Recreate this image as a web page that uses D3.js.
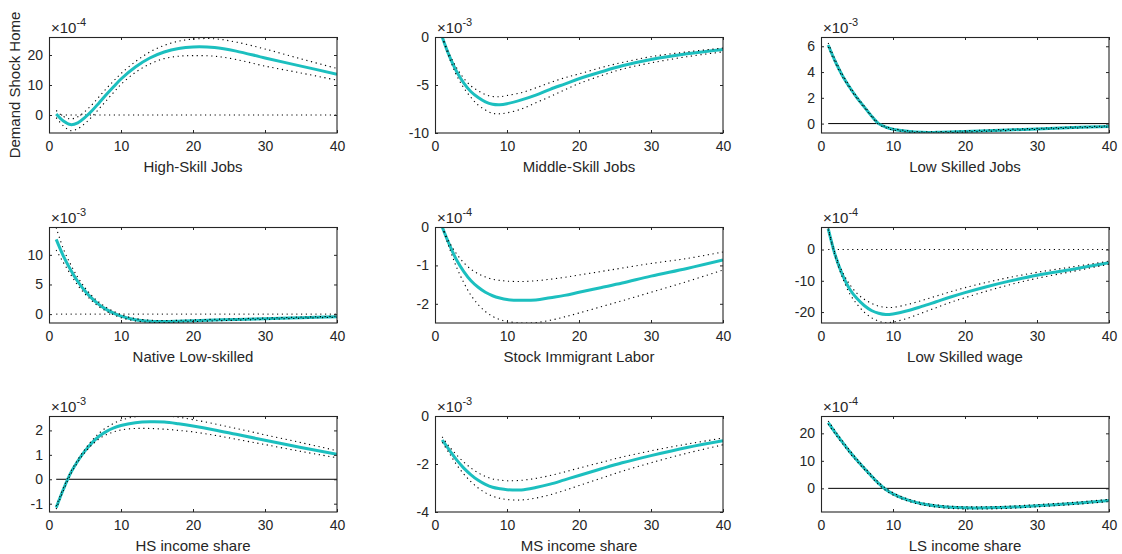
<!DOCTYPE html>
<html>
<head>
<meta charset="utf-8">
<script src="https://cdn.jsdelivr.net/npm/d3@7"></script>
<style>
  html, body { margin: 0; padding: 0; background: #fff; }
  svg { display: block; }
  text { font-family: "Liberation Sans", Arial, Helvetica, sans-serif; fill: #262626; }
</style>
</head>
<body>
<svg id="chart" width="1122" height="554"></svg>
<script>
// ---------- data (horizon steps and IRF values) ----------
const steps = [1,2,3,4,5,6,7,8,9,10,12,14,16,18,20,23,26,30,35,40];
const xTicks = [0,10,20,30,40];

// High-Skill Jobs (x1e-4)
const hsJobsMean = [0.3,-2.0,-3.2,-2.6,-0.8,1.5,4.2,6.9,9.5,12.0,16.0,19.0,21.0,22.2,22.7,22.5,21.3,19.0,16.3,13.6];
const hsJobsUp   = [1.5,-0.5,-1.3,-0.6,1.2,3.5,6.2,8.9,11.4,13.8,17.8,21.0,23.2,24.6,25.3,25.4,24.3,22.0,18.7,15.5];
const hsJobsLo   = [-0.9,-3.6,-5.2,-4.6,-2.8,-0.5,2.2,4.9,7.6,10.2,14.2,17.0,18.8,19.6,19.8,19.6,18.5,16.3,14.0,11.6];

// Middle-Skill Jobs (x1e-3)
const msJobsMean = [0,-2.0,-3.6,-4.8,-5.7,-6.3,-6.75,-7.0,-7.05,-6.95,-6.55,-6.05,-5.45,-4.9,-4.35,-3.65,-3.0,-2.35,-1.75,-1.3];
const msJobsUp   = [0,-1.8,-3.2,-4.3,-5.1,-5.6,-6.0,-6.2,-6.22,-6.1,-5.8,-5.3,-4.75,-4.25,-3.85,-3.2,-2.65,-2.05,-1.55,-1.15];
const msJobsLo   = [0,-2.2,-4.0,-5.3,-6.3,-7.1,-7.6,-7.95,-8.0,-7.9,-7.5,-6.85,-6.2,-5.5,-4.85,-4.05,-3.35,-2.7,-2.05,-1.55];

// Low Skilled Jobs (x1e-3)
const lsJobsMean = [6.1,4.8,3.7,2.8,2.0,1.3,0.6,0.0,-0.28,-0.44,-0.6,-0.68,-0.68,-0.65,-0.61,-0.55,-0.49,-0.41,-0.31,-0.22];
const lsJobsUp   = [6.25,4.92,3.8,2.88,2.07,1.36,0.65,0.05,-0.23,-0.39,-0.55,-0.63,-0.63,-0.6,-0.56,-0.5,-0.44,-0.37,-0.27,-0.18];
const lsJobsLo   = [5.95,4.68,3.6,2.72,1.93,1.24,0.55,-0.05,-0.33,-0.49,-0.65,-0.73,-0.73,-0.7,-0.66,-0.6,-0.54,-0.45,-0.35,-0.26];

// Native Low-skilled (x1e-3)
const nativeMean = [12.6,9.8,7.5,5.5,3.9,2.6,1.55,0.75,0.15,-0.35,-0.95,-1.2,-1.25,-1.2,-1.12,-1.0,-0.9,-0.78,-0.6,-0.45];
const nativeUp   = [14.6,11.0,8.4,6.2,4.45,3.05,1.95,1.1,0.45,-0.1,-0.75,-1.02,-1.08,-1.05,-0.98,-0.87,-0.78,-0.66,-0.5,-0.36];
const nativeLo   = [10.8,8.7,6.7,4.85,3.4,2.2,1.2,0.45,-0.12,-0.6,-1.15,-1.38,-1.42,-1.36,-1.27,-1.14,-1.03,-0.9,-0.7,-0.54];

// Stock Immigrant Labor (x1e-4)
const stockMean = [0,-0.46,-0.86,-1.16,-1.4,-1.57,-1.7,-1.79,-1.85,-1.89,-1.91,-1.9,-1.84,-1.78,-1.7,-1.58,-1.46,-1.28,-1.08,-0.86];
const stockUp   = [0,-0.4,-0.7,-0.93,-1.1,-1.22,-1.3,-1.36,-1.39,-1.41,-1.42,-1.4,-1.36,-1.31,-1.25,-1.16,-1.07,-0.95,-0.82,-0.65];
const stockLo   = [0,-0.55,-1.05,-1.45,-1.78,-2.02,-2.2,-2.33,-2.41,-2.46,-2.5,-2.49,-2.43,-2.34,-2.24,-2.08,-1.92,-1.7,-1.42,-1.12];

// Low Skilled wage (x1e-4)
const wageMean = [6.7,-2.0,-8.2,-12.7,-15.7,-17.9,-19.5,-20.4,-20.8,-20.6,-19.6,-18.2,-16.7,-15.2,-13.8,-11.9,-10.2,-8.2,-6.3,-4.2];
const wageUp   = [7.0,-1.6,-7.3,-11.2,-14.0,-15.9,-17.2,-18.1,-18.5,-18.5,-17.6,-16.3,-14.9,-13.5,-12.2,-10.5,-9.0,-7.3,-5.5,-3.7];
const wageLo   = [6.4,-2.4,-9.1,-14.2,-17.5,-20.0,-21.8,-22.9,-23.4,-23.2,-22.0,-20.3,-18.6,-16.9,-15.4,-13.3,-11.4,-9.2,-7.0,-4.7];

// HS income share (x1e-3)
const hsShareMean = [-1.16,-0.41,0.25,0.75,1.16,1.5,1.77,1.96,2.1,2.2,2.31,2.35,2.34,2.27,2.18,2.02,1.84,1.6,1.3,1.02];
const hsShareUp   = [-1.1,-0.36,0.3,0.8,1.23,1.6,1.9,2.12,2.29,2.42,2.56,2.6,2.6,2.54,2.44,2.27,2.08,1.82,1.5,1.17];
const hsShareLo   = [-1.22,-0.46,0.2,0.7,1.1,1.42,1.66,1.83,1.94,2.02,2.08,2.08,2.05,2.0,1.94,1.8,1.64,1.42,1.14,0.88];

// MS income share (x1e-3)
const msShareMean = [-1.0,-1.42,-1.83,-2.17,-2.45,-2.68,-2.85,-2.97,-3.03,-3.07,-3.08,-2.98,-2.84,-2.66,-2.48,-2.21,-1.95,-1.65,-1.31,-1.03];
const msShareUp   = [-0.87,-1.28,-1.62,-1.92,-2.17,-2.37,-2.52,-2.62,-2.67,-2.7,-2.68,-2.6,-2.48,-2.33,-2.17,-1.94,-1.71,-1.45,-1.17,-0.92];
const msShareLo   = [-1.1,-1.56,-2.03,-2.42,-2.74,-3.0,-3.2,-3.34,-3.43,-3.48,-3.5,-3.42,-3.28,-3.1,-2.9,-2.6,-2.3,-1.95,-1.55,-1.2];

// LS income share (x1e-4)
const lsShareMean = [23.9,20.2,16.7,13.3,10.2,7.3,4.5,1.8,-0.4,-2.0,-4.2,-5.6,-6.4,-6.9,-7.1,-7.1,-6.9,-6.3,-5.5,-4.4];
const lsShareUp   = [24.5,20.8,17.2,13.8,10.6,7.7,4.9,2.2,0.0,-1.6,-3.8,-5.2,-6.0,-6.5,-6.7,-6.7,-6.5,-5.9,-5.1,-4.0];
const lsShareLo   = [23.3,19.6,16.2,12.8,9.8,6.9,4.1,1.4,-0.8,-2.4,-4.6,-6.0,-6.8,-7.3,-7.5,-7.5,-7.3,-6.7,-5.9,-4.8];

const titles = ["High-Skill Jobs","Middle-Skill Jobs","Low Skilled Jobs",
                "Native Low-skilled","Stock Immigrant Labor","Low Skilled wage",
                "HS income share","MS income share","LS income share"];
const exponents = ["-4","-3","-3","-3","-4","-4","-3","-3","-4"];
const yLimits = [[-6,26],[-10,0],[-0.73,6.72],[-1.5,14.7],[-2.5,0],[-23.5,7.2],[-1.34,2.59],[-4,0],[-8.6,26.3]];
const yTickLists = [[0,10,20],[-10,-5,0],[0,2,4,6],[0,5,10],[-2,-1,0],[-20,-10,0],[-1,0,1,2],[-4,-2,0],[0,10,20]];
const zeroStyles = ["dot","dot","solid","dot","dot","dot","solid","dot","solid"];
const yAxisLabel = "Demand Shock Home";

const meanSeries = [hsJobsMean,msJobsMean,lsJobsMean,nativeMean,stockMean,wageMean,hsShareMean,msShareMean,lsShareMean];
const upSeries   = [hsJobsUp,msJobsUp,lsJobsUp,nativeUp,stockUp,wageUp,hsShareUp,msShareUp,lsShareUp];
const loSeries   = [hsJobsLo,msJobsLo,lsJobsLo,nativeLo,stockLo,wageLo,hsShareLo,msShareLo,lsShareLo];

// ---------- layout ----------
const colX = [49, 435, 821];
const rowY = [37, 227, 416];
const W = 288, H = 96;
const axisColor = "#262626";
const lineColor = "#1cbfbf";

const svg = d3.select("#chart");
const fmt = d => String(d);

titles.forEach((title, i) => {
  const col = i % 3, row = Math.floor(i / 3);
  const g = svg.append("g").attr("transform", `translate(${colX[col]},${rowY[row]})`);
  const x = d3.scaleLinear().domain([0, 40]).range([0, W]);
  const y = d3.scaleLinear().domain(yLimits[i]).range([H, 0]);

  const clipId = "clip" + i;
  g.append("clipPath").attr("id", clipId)
    .append("rect").attr("x", 0).attr("y", 0).attr("width", W).attr("height", H);
  const plot = g.append("g").attr("clip-path", `url(#${clipId})`);

  const line = d3.line()
    .x((d, k) => x(steps[k]))
    .y(d => y(d))
    .curve(d3.curveCatmullRom.alpha(0.5));

  // zero line
  const zl = plot.append("line")
    .attr("x1", x(1)).attr("x2", x(40))
    .attr("y1", y(0)).attr("y2", y(0))
    .attr("stroke", "#000").attr("stroke-width", 1);
  if (zeroStyles[i] === "dot") zl.attr("stroke-dasharray", "1.2,3.6");

  // mean response
  plot.append("path").datum(meanSeries[i])
    .attr("d", line).attr("fill", "none")
    .attr("stroke", lineColor).attr("stroke-width", 3)
    .attr("stroke-linejoin", "round");

  // bands
  [upSeries[i], loSeries[i]].forEach(s => {
    plot.append("path").datum(s)
      .attr("d", line).attr("fill", "none")
      .attr("stroke", "#000").attr("stroke-width", 1.1)
      .attr("stroke-dasharray", "1.2,3.6");
  });

  // axes
  const styleAxis = sel => {
    sel.select(".domain").remove();
    sel.selectAll(".tick line").attr("stroke", axisColor);
    sel.selectAll(".tick text").attr("fill", axisColor).style("font-size", "14px")
      .style("font-family", '"Liberation Sans", Arial, Helvetica, sans-serif');
  };
  g.append("g").attr("transform", `translate(0,${H})`)
    .call(d3.axisBottom(x).tickValues(xTicks).tickFormat(fmt).tickSizeInner(-3).tickSizeOuter(0).tickPadding(8))
    .call(styleAxis);
  g.append("g")
    .call(d3.axisTop(x).tickValues(xTicks).tickFormat("").tickSizeInner(-3).tickSizeOuter(0))
    .call(styleAxis);
  g.append("g")
    .call(d3.axisLeft(y).tickValues(yTickLists[i]).tickFormat(fmt).tickSizeInner(-3).tickSizeOuter(0).tickPadding(6))
    .call(styleAxis);
  g.append("g").attr("transform", `translate(${W},0)`)
    .call(d3.axisRight(y).tickValues(yTickLists[i]).tickFormat("").tickSizeInner(-3).tickSizeOuter(0))
    .call(styleAxis);

  g.append("rect").attr("x", 0.5).attr("y", 0.5).attr("width", W - 0.5).attr("height", H - 0.5)
    .attr("fill", "none").attr("stroke", axisColor).attr("stroke-width", 1.1);

  // exponent label
  const ex = g.append("text").attr("x", 2).attr("y", -4.5).style("font-size", "15px");
  ex.append("tspan").text("\u00d710");
  ex.append("tspan").attr("dy", -7).style("font-size", "11px").text(exponents[i]);

  // x label
  g.append("text").attr("x", W / 2).attr("y", H + 39)
    .attr("text-anchor", "middle").style("font-size", "15px").text(title);
});

// y label on first panel
svg.append("text")
  .attr("transform", `translate(19.5,${rowY[0] + H / 2}) rotate(-90)`)
  .attr("text-anchor", "middle").style("font-size", "15px").text(yAxisLabel);
</script>
</body>
</html>
